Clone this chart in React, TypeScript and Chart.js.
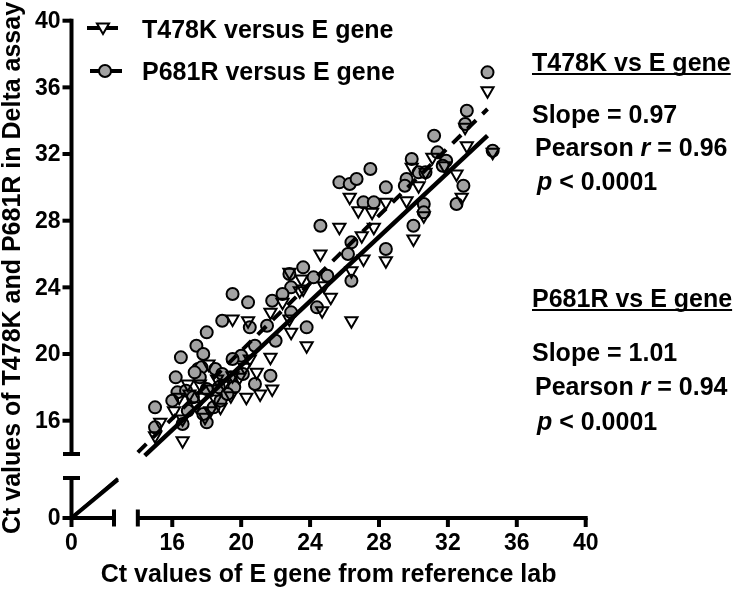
import React, { useEffect, useRef } from 'react';
import { Chart, registerables } from 'chart.js';

Chart.register(...registerables);

// ---- Data ----
// P681R versus E gene (grey circles)
const p681rX = [34.3, 33.1, 33.0, 31.2, 31.4, 31.9, 31.7, 29.9, 30.3, 30.7, 29.6, 29.5, 28.4, 32.9, 32.5, 30.6, 30.6, 30.0, 34.6, 27.5, 25.7, 26.3, 26.7, 27.1, 27.7, 24.6, 28.4, 26.4, 26.2, 23.6, 24.2, 22.8, 22.9, 25.0, 26.4, 24.4, 22.9, 22.4, 19.5, 20.4, 21.8, 18.9, 20.5, 21.5, 18.0, 23.8, 20.8, 22.0, 20.0, 19.5, 18.5, 20.1, 21.7, 20.8, 17.4, 17.8, 16.5, 17.5, 16.2, 16.3, 16.8, 18.7, 15.0, 15.0, 18.0, 19.4, 18.4, 16.6, 17.7, 17.2, 18.0, 18.8, 19.6, 16.9, 17.6, 17.3, 16.0, 18.9, 19.2, 17.8];
const p681rY = [36.9, 34.6, 33.8, 33.1, 32.1, 31.6, 31.3, 31.7, 30.9, 30.9, 30.5, 30.1, 30.0, 30.1, 29.0, 29.0, 28.5, 27.7, 32.2, 31.1, 30.3, 30.2, 30.5, 29.1, 29.1, 27.7, 26.3, 26.7, 26.0, 25.2, 24.6, 24.8, 24.0, 24.7, 24.4, 22.8, 22.5, 23.6, 23.6, 23.1, 23.2, 22.0, 21.6, 21.7, 21.3, 21.6, 20.5, 20.8, 19.9, 19.7, 19.1, 18.8, 18.7, 18.2, 20.5, 20.0, 19.8, 19.1, 18.6, 17.7, 17.8, 18.0, 16.8, 15.6, 15.9, 18.6, 16.8, 15.8, 19.2, 17.4, 17.9, 17.2, 18.0, 16.6, 18.6, 18.9, 17.2, 18.8, 17.6, 16.4];

// T478K versus E gene (open inverted triangles)
const t478kX = [34.3, 33.1, 33.0, 34.6, 31.1, 31.8, 32.5, 29.9, 30.3, 30.7, 28.4, 29.6, 32.8, 30.6, 30.0, 26.3, 26.8, 27.6, 25.7, 27.0, 27.7, 24.6, 27.1, 28.4, 26.4, 23.6, 24.8, 25.2, 24.7, 26.4, 19.5, 20.4, 22.8, 23.5, 21.7, 22.4, 23.4, 22.8, 22.9, 23.8, 21.7, 20.5, 18.1, 19.5, 21.8, 20.3, 21.1, 18.6, 16.1, 16.6, 15.0, 17.6, 17.7, 18.8, 18.2, 16.6, 19.4, 17.0, 19.9, 16.4, 20.9, 18.3, 15.3, 17.4, 18.5, 19.0, 16.9, 20.2, 17.9];
const t478kY = [35.8, 32.5, 33.6, 32.1, 31.8, 31.3, 30.8, 31.2, 30.1, 30.9, 29.1, 29.2, 29.4, 28.3, 26.9, 29.4, 28.6, 28.5, 27.6, 27.1, 27.6, 26.0, 25.7, 25.6, 25.0, 23.9, 24.1, 23.4, 22.6, 22.0, 22.1, 22.0, 24.9, 24.5, 22.5, 23.1, 23.8, 22.1, 21.3, 20.5, 19.8, 19.7, 19.4, 18.7, 17.9, 17.4, 17.6, 18.5, 16.6, 14.8, 15.1, 18.2, 17.4, 16.8, 16.6, 16.1, 17.5, 17.6, 18.6, 17.4, 18.9, 17.9, 15.9, 16.9, 17.3, 18.2, 18.2, 19.2, 16.2];

// Linear fits (end points)
const fitT478KX = [14.4, 34.3];
const fitT478KY = [13.9, 33.1];
const fitP681RX = [14.0, 34.3];
const fitP681RY = [14.1, 34.7];
// Fits in the lower (broken) segment
const lowFitX = [0, 10.9];
const lowT478KY = [0, 9.6];
const lowP681RY = [0, 9.9];

// Axis ticks
const xTicksHigh = [16, 20, 24, 28, 32, 36, 40];
const yTicksHigh = [16, 20, 24, 28, 32, 36, 40];
const xTicksLow = [0];
const yTicksLow = [0];
// Segment limits
const highStart = 14;
const highEnd = 40;
const lowEnd = 10;

const legendLabels = ['T478K versus E gene', 'P681R versus E gene'];
const xTitle = 'Ct values of E gene from reference lab';
const yTitle = 'Ct values of T478K and P681R in Delta assay';
const stats = [
  { head: 'T478K vs E gene', slope: '0.97', r: '0.96', p: '0.0001' },
  { head: 'P681R vs E gene', slope: '1.01', r: '0.94', p: '0.0001' },
];

const FONT = '"Liberation Sans", Arial, Helvetica, sans-serif';
const CIRCLE_FILL = '#a2a2a2';

function pts(xs: number[], ys: number[]) {
  return xs.map((x, i) => ({ x, y: ys[i] }));
}

function drawTri(ctx: CanvasRenderingContext2D, x: number, y: number, r: number) {
  ctx.beginPath();
  for (let k = 0; k < 3; k++) {
    const a = Math.PI + (k * 2 * Math.PI) / 3;
    const px = x + Math.sin(a) * r;
    const py = y - Math.cos(a) * r;
    if (k === 0) ctx.moveTo(px, py);
    else ctx.lineTo(px, py);
  }
  ctx.closePath();
}

const brokenAxes = {
  id: 'brokenAxes',
  afterDraw(chart: any) {
    const { ctx, scales } = chart;
    const xH = scales.xHigh, xL = scales.xLow, yH = scales.yHigh, yL = scales.yLow;
    const x0 = xL.getPixelForValue(0);
    const y0 = yL.getPixelForValue(0);
    ctx.save();
    ctx.strokeStyle = '#000';
    ctx.fillStyle = '#000';
    ctx.lineWidth = 4;
    ctx.lineCap = 'butt';
    const line = (a: number, b: number, c: number, d: number) => {
      ctx.beginPath();
      ctx.moveTo(a, b);
      ctx.lineTo(c, d);
      ctx.stroke();
    };
    const cap = 8.5;
    const tick = 9;
    // y upper segment
    const yTop = yH.getPixelForValue(highEnd);
    const yBrk = yH.getPixelForValue(highStart);
    line(x0, yTop - 2, x0, yBrk);
    line(x0 - cap, yBrk, x0 + cap, yBrk);
    // y lower segment
    const yLowTop = yL.getPixelForValue(lowEnd);
    line(x0, y0 + 2, x0, yLowTop);
    line(x0 - cap, yLowTop, x0 + cap, yLowTop);
    // x lower segment
    const xLowEnd = xL.getPixelForValue(lowEnd);
    line(x0 - 2, y0, xLowEnd, y0);
    line(xLowEnd, y0 - cap, xLowEnd, y0 + cap);
    // x upper segment
    const xStart = xH.getPixelForValue(highStart);
    const xEnd = xH.getPixelForValue(highEnd);
    line(xStart, y0, xEnd + 2, y0);
    line(xStart, y0 - cap, xStart, y0 + cap);
    // ticks
    yTicksHigh.forEach((v) => { const y = yH.getPixelForValue(v); line(x0 - tick, y, x0, y); });
    yTicksLow.forEach((v) => { const y = yL.getPixelForValue(v); line(x0 - tick, y, x0, y); });
    xTicksHigh.forEach((v) => { const x = xH.getPixelForValue(v); line(x, y0, x, y0 + tick); });
    xTicksLow.forEach((v) => { const x = xL.getPixelForValue(v); line(x, y0, x, y0 + tick); });
    // tick labels
    ctx.font = `bold 23px ${FONT}`;
    ctx.textAlign = 'right';
    ctx.textBaseline = 'middle';
    yTicksHigh.forEach((v) => ctx.fillText(String(v), x0 - 11, yH.getPixelForValue(v) + 1));
    yTicksLow.forEach((v) => ctx.fillText(String(v), x0 - 11, yL.getPixelForValue(v) + 1));
    ctx.textAlign = 'center';
    xTicksHigh.forEach((v) => ctx.fillText(String(v), xH.getPixelForValue(v), y0 + 26));
    xTicksLow.forEach((v) => ctx.fillText(String(v), xL.getPixelForValue(v), y0 + 26));
    // axis titles
    ctx.font = `bold 25px ${FONT}`;
    ctx.textBaseline = 'alphabetic';
    ctx.textAlign = 'center';
    const ca = chart.chartArea;
    ctx.fillText(xTitle, (ca.left + ca.right) / 2, 582);
    ctx.save();
    ctx.translate(20, 268);
    ctx.rotate(-Math.PI / 2);
    ctx.fillText(yTitle, 0, 0);
    ctx.restore();

    // legend
    ctx.lineWidth = 4;
    line(87, 28, 118, 28);
    ctx.lineWidth = 2;
    drawTri(ctx, 103, 27, 7);
    ctx.fillStyle = '#fff';
    ctx.fill();
    ctx.stroke();
    ctx.lineWidth = 4;
    line(90, 71, 122, 71);
    ctx.lineWidth = 2;
    ctx.beginPath();
    ctx.arc(105, 71, 6, 0, Math.PI * 2);
    ctx.fillStyle = CIRCLE_FILL;
    ctx.fill();
    ctx.stroke();
    ctx.fillStyle = '#000';
    ctx.font = `bold 25px ${FONT}`;
    ctx.textAlign = 'left';
    ctx.fillText(legendLabels[0], 142, 38);
    ctx.fillText(legendLabels[1], 142, 80);

    // statistics block
    const bases = [[71, 123, 156, 190], [307, 361, 395, 430]];
    stats.forEach((s, i) => {
      const b = bases[i];
      ctx.font = `bold 25px ${FONT}`;
      ctx.fillText(s.head, 532, b[0]);
      const w = ctx.measureText(s.head).width;
      ctx.lineWidth = 2;
      line(532, b[0] + 3, 532 + w, b[0] + 3);
      ctx.fillText(`Slope = ${s.slope}`, 532, b[1]);
      // Pearson r
      let x = 535;
      const t1 = 'Pearson ';
      ctx.fillText(t1, x, b[2]);
      x += ctx.measureText(t1).width;
      ctx.font = `italic bold 25px ${FONT}`;
      ctx.fillText('r', x, b[2]);
      x += ctx.measureText('r').width;
      ctx.font = `bold 25px ${FONT}`;
      ctx.fillText(` = ${s.r}`, x, b[2]);
      // p value
      x = 537;
      ctx.font = `italic bold 25px ${FONT}`;
      ctx.fillText('p', x, b[3]);
      x += ctx.measureText('p').width;
      ctx.font = `bold 25px ${FONT}`;
      ctx.fillText(` < ${s.p}`, x, b[3]);
    });
    ctx.restore();
  },
};

export default function App() {
  const ref = useRef<HTMLCanvasElement | null>(null);
  useEffect(() => {
    if (!ref.current) return;
    const chart = new Chart(ref.current, {
      type: 'scatter',
      data: {
        datasets: [
          {
            label: 'T478K fit',
            data: pts(fitT478KX, fitT478KY),
            showLine: true,
            borderColor: '#000',
            borderWidth: 4.5,
            pointRadius: 0,
            xAxisID: 'xHigh',
            yAxisID: 'yHigh',
            order: 0,
          },
          {
            label: 'P681R fit',
            data: pts(fitP681RX, fitP681RY),
            showLine: true,
            borderColor: '#000',
            borderWidth: 4,
            borderDash: [12, 9],
            pointRadius: 0,
            xAxisID: 'xHigh',
            yAxisID: 'yHigh',
            order: 0,
          },
          {
            label: 'T478K fit low',
            data: pts(lowFitX, lowT478KY),
            showLine: true,
            borderColor: '#000',
            borderWidth: 4,
            pointRadius: 0,
            xAxisID: 'xLow',
            yAxisID: 'yLow',
            order: 0,
          },
          {
            label: 'P681R fit low',
            data: pts(lowFitX, lowP681RY),
            showLine: true,
            borderColor: '#000',
            borderWidth: 3,
            pointRadius: 0,
            xAxisID: 'xLow',
            yAxisID: 'yLow',
            order: 0,
          },
          {
            label: legendLabels[0],
            data: pts(t478kX, t478kY),
            pointStyle: 'triangle',
            rotation: 180,
            pointRadius: 7,
            pointBorderWidth: 2,
            borderColor: '#000',
            backgroundColor: 'rgba(255,255,255,0)',
            xAxisID: 'xHigh',
            yAxisID: 'yHigh',
            order: 1,
          },
          {
            label: legendLabels[1],
            data: pts(p681rX, p681rY),
            pointStyle: 'circle',
            pointRadius: 6,
            pointBorderWidth: 2,
            borderColor: '#000',
            backgroundColor: CIRCLE_FILL,
            xAxisID: 'xHigh',
            yAxisID: 'yHigh',
            order: 2,
          },
        ],
      },
      options: {
        animation: false,
        responsive: false,
        devicePixelRatio: 1,
        events: [],
        layout: { padding: { left: 71.5, right: 148.3, top: 20.7, bottom: 74 } },
        plugins: { legend: { display: false }, tooltip: { enabled: false } },
        scales: {
          xHigh: { type: 'linear', position: 'bottom', min: 10.15, max: 40, display: false },
          xLow: { type: 'linear', position: 'bottom', min: 0, max: 121.0, display: false },
          yHigh: { type: 'linear', position: 'left', min: 10.16, max: 40, display: false },
          yLow: { type: 'linear', position: 'left', min: 0, max: 124.3, display: false },
        },
      },
      plugins: [brokenAxes],
    });
    return () => chart.destroy();
  }, []);
  return (
    <div style={{ position: 'absolute', left: 0, top: 0, width: 734, height: 592, background: '#fff' }}>
      <canvas ref={ref} width={734} height={592} style={{ display: 'block' }} />
    </div>
  );
}
